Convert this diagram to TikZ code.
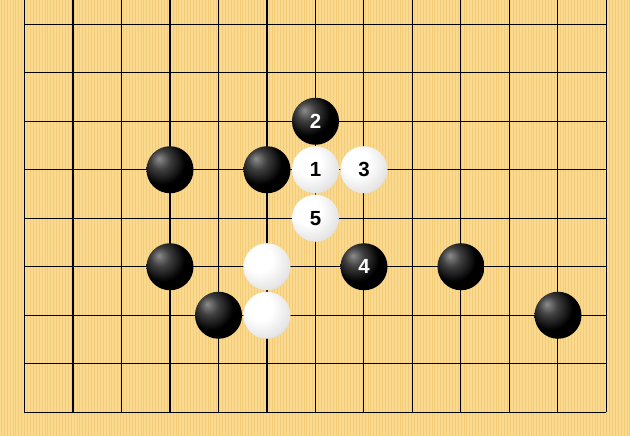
\documentclass[tikz,border=0pt]{standalone}
\usepackage{fontspec}
\setmainfont{Liberation Sans}
\usepackage{tikz}
\usetikzlibrary{positioning,calc,shadings}
\definecolor{boardwood}{HTML}{F9DA90}
\definecolor{woodgrain}{HTML}{F4CC78}
\pgfdeclareradialshading{whiteball}{\pgfpoint{-10bp}{10bp}}{color(0bp)=(white); color(14bp)=(white); color(30bp)=(black!10); color(44bp)=(black!28); color(56bp)=(black!48); color(70bp)=(black!55)}
\pgfdeclareradialshading{blackball}{\pgfpoint{-12bp}{12bp}}{color(0bp)=(black!45); color(10bp)=(black!75); color(24bp)=(black); color(52bp)=(black); color(62bp)=(black!72); color(76bp)=(black!72)}

\begin{document}
\begin{tikzpicture}[x=1cm, y=1cm,
    stone/.style={circle, minimum size=0.97cm, inner sep=0pt, font=\fontsize{12}{14}\selectfont\bfseries},
    blackstone/.style={stone, shading=blackball, text=white},
    whitestone/.style={stone, shading=whiteball, text=black}]
    \useasboundingbox [fill=boardwood] (-0.505,-8.48) rectangle (12.485,0.5);

    % wood grain
    \foreach \s in {-0.48,-0.42,...,12.48} \draw [woodgrain, line width=0.35pt] (\s,-8.48) -- (\s,0.5);

    % grid
    \foreach \i in {0,...,12} \draw [line width=0.6pt] (\i,0.5) -- (\i,-8);
    \foreach \j in {0,...,8} \draw [line width=0.6pt] (0,-\j) -- (12,-\j);

    % stones
    \node [blackstone] (b2) at (6,-2) {2};
    \node [blackstone] (ba) at (3,-3) {};
    \node [blackstone] (bb) at (5,-3) {};
    \node [whitestone] (w1) at (6,-3) {1};
    \node [whitestone] (w3) at (7,-3) {3};
    \node [whitestone] (w5) at (6,-4) {5};
    \node [blackstone] (bc) at (3,-5) {};
    \node [whitestone] (wa) at (5,-5) {};
    \node [blackstone] (b4) at (7,-5) {4};
    \node [blackstone] (bd) at (9,-5) {};
    \node [blackstone] (be) at (4,-6) {};
    \node [whitestone] (wb) at (5,-6) {};
    \node [blackstone] (bf) at (11,-6) {};

\end{tikzpicture}
\end{document}
